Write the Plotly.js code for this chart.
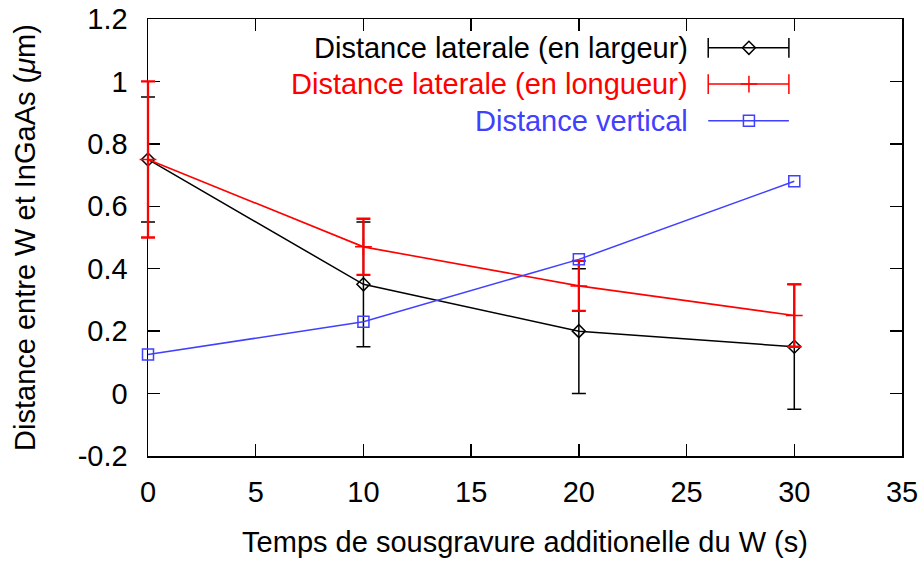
<!DOCTYPE html>
<html>
<head>
<meta charset="utf-8">
<script src="https://cdn.plot.ly/plotly-3.0.1.min.js"></script>
<style>html,body{margin:0;padding:0;background:#fff;}#chart{width:922px;height:563px;}</style>
</head>
<body>
<div id="chart"></div>
<script>
// Data
const timeS = [0, 10, 20, 30];
const largeurVals = [0.75, 0.35, 0.20, 0.15];
const largeurErr = [0.20, 0.20, 0.20, 0.20];
const longueurVals = [0.75, 0.47, 0.345, 0.25];
const longueurErr = [0.25, 0.09, 0.08, 0.10];
const verticalVals = [0.125, 0.23, 0.43, 0.68];
const seriesNames = ["Distance laterale (en largeur)", "Distance laterale (en longueur)", "Distance vertical"];
const xTickVals = [0, 5, 10, 15, 20, 25, 30, 35];
const yTickVals = [-0.2, 0, 0.2, 0.4, 0.6, 0.8, 1, 1.2];
const yTickText = ["-0.2", "0", "0.2", "0.4", "0.6", "0.8", "1", "1.2"];

const FONT = "Liberation Sans, Arial, sans-serif";
const FS = 29;
const BLACK = "#000000", RED = "#ff0000", BLUE = "#4040ff";

// Geometry: the main frame spans [X_MIN, X_MAX]; the data traces live on a hidden
// x axis (x3) that shares the same scale but extends a little to the left, so
// error-bar caps at x = 0 are not clipped by the frame (as in the original).
const W = 922, H = 563, ML = 100, MR = 20, MT = 19, MB = 107;
const FRAME_LEFT_PX = 148;
const X_MIN = 0, X_MAX = 35;
const plotW = W - ML - MR;
const domStart = (FRAME_LEFT_PX - ML) / plotW;
const pxPerUnit = (plotW - (FRAME_LEFT_PX - ML)) / (X_MAX - X_MIN);
const x3Min = X_MIN - (FRAME_LEFT_PX - ML) / pxPerUnit;

const traces = [
  // empty trace that establishes the framed x/y subplot
  {x: [], y: [], xaxis: "x", yaxis: "y", type: "scatter", mode: "lines", showlegend: false, hoverinfo: "skip"},
  {x: timeS, y: largeurVals, xaxis: "x3", yaxis: "y", type: "scatter", mode: "lines+markers", name: seriesNames[0], cliponaxis: false,
   line: {color: BLACK, width: 1.5},
   marker: {symbol: "diamond-open", size: 10, color: BLACK, line: {width: 1.5, color: BLACK}},
   error_y: {type: "data", array: largeurErr, visible: true, color: BLACK, thickness: 1.5, width: 7},
   showlegend: false},
  {x: timeS, y: longueurVals, xaxis: "x3", yaxis: "y", type: "scatter", mode: "lines+markers", name: seriesNames[1], cliponaxis: false,
   line: {color: RED, width: 1.6},
   marker: {symbol: "cross-thin-open", size: 12, color: RED, line: {width: 1.5, color: RED}},
   error_y: {type: "data", array: longueurErr, visible: true, color: RED, thickness: 2.3, width: 7},
   showlegend: false},
  {x: timeS, y: verticalVals, xaxis: "x3", yaxis: "y", type: "scatter", mode: "lines+markers", name: seriesNames[2], cliponaxis: false,
   line: {color: BLUE, width: 1.5},
   marker: {symbol: "square-open", size: 11, color: BLUE, line: {width: 1.5, color: BLUE}},
   showlegend: false}
];

// Legend samples (gnuplot style: text right-aligned, sample on the right)
const legX0 = 0.743, legX1 = 0.850, legXm = 0.797;
const legRows = [0.934, 0.851, 0.767];
const legColors = [BLACK, RED, BLUE];
const legSymbols = ["diamond-open", "cross-thin-open", "square-open"];
const legCaps = [true, true, false];
const annotations = [];
for (let i = 0; i < 3; i++) {
  traces.push({x: [legX0, legX1], y: [legRows[i], legRows[i]], xaxis: "x2", yaxis: "y2",
    type: "scatter", mode: "lines", line: {color: legColors[i], width: 1.5},
    showlegend: false, hoverinfo: "skip"});
  traces.push({x: [legXm], y: [legRows[i]], xaxis: "x2", yaxis: "y2", type: "scatter", mode: "markers",
    marker: {symbol: legSymbols[i], size: i === 1 ? 12 : (i === 0 ? 10 : 11), color: legColors[i],
      line: {width: 1.5, color: legColors[i]}}, showlegend: false, hoverinfo: "skip"});
  if (legCaps[i]) {
    traces.push({x: [legX0, legX1], y: [legRows[i], legRows[i]], xaxis: "x2", yaxis: "y2", type: "scatter",
      mode: "markers", marker: {symbol: "line-ns-open", size: 14, color: legColors[i],
      line: {width: 1.5, color: legColors[i]}}, showlegend: false, hoverinfo: "skip"});
  }
  annotations.push({xref: "paper", yref: "paper", x: (690 - ML) / plotW, y: legRows[i], xanchor: "right", yanchor: "middle",
    text: seriesNames[i], showarrow: false, font: {family: FONT, size: FS, color: legColors[i]}});
}

const layout = {
  width: W, height: H,
  margin: {l: ML, r: MR, t: MT, b: MB},
  paper_bgcolor: "#fff", plot_bgcolor: "rgba(0,0,0,0)",
  font: {family: FONT, size: FS, color: "#000"},
  showlegend: false,
  xaxis: {domain: [domStart, 1], anchor: "y", range: [X_MIN, X_MAX], tickvals: xTickVals, ticks: "inside", ticklen: 12, tickwidth: 1.5, tickcolor: "#000",
    showline: true, linecolor: "#000", linewidth: 1.5, mirror: "ticks", showgrid: false, zeroline: false,
    tickfont: {family: FONT, size: FS}, ticklabelstandoff: 10,
    title: {text: "Temps de sousgravure additionelle du W (s)", font: {family: FONT, size: FS}, standoff: 24}},
  yaxis: {anchor: "x", range: [-0.2, 1.2], tickvals: yTickVals, ticktext: yTickText, ticks: "inside", ticklen: 12, tickwidth: 1.5,
    tickcolor: "#000", showline: true, linecolor: "#000", linewidth: 1.5, mirror: "ticks", showgrid: false,
    zeroline: false, tickfont: {family: FONT, size: FS}, ticklabelstandoff: 13,
    title: {text: "Distance entre W et InGaAs (<i>μ</i>m)", font: {family: FONT, size: FS}, standoff: 33}},
  xaxis2: {overlaying: "x", anchor: "y2", range: [0, 1], visible: false, fixedrange: true},
  yaxis2: {overlaying: "y", anchor: "x2", range: [0, 1], visible: false, fixedrange: true},
  xaxis3: {domain: [0, 1], range: [x3Min, X_MAX], anchor: "y", visible: false, fixedrange: true},
  annotations: annotations
};

Plotly.newPlot("chart", traces, layout, {staticPlot: true, displayModeBar: false});
</script>
</body>
</html>
